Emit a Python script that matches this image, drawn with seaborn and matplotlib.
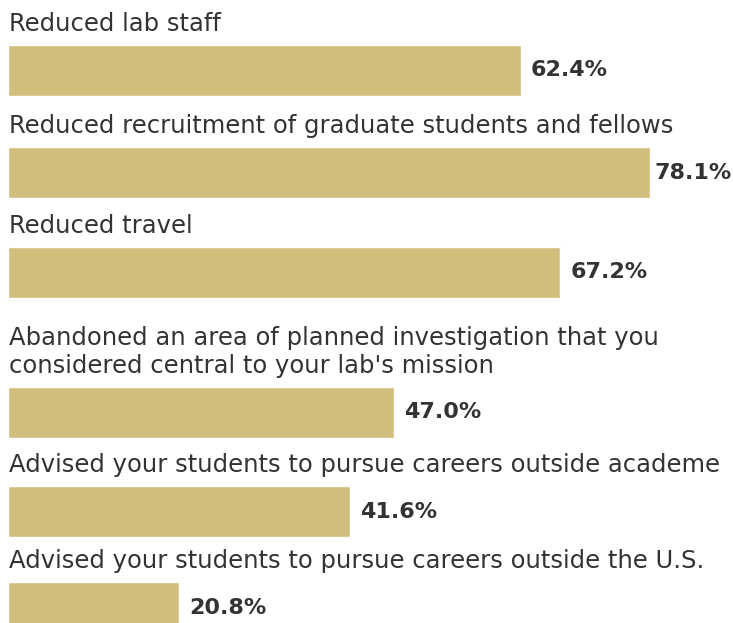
import matplotlib
matplotlib.use("Agg")
import matplotlib.pyplot as plt
import seaborn as sns
import pandas as pd

categories = [
    "Reduced lab staff",
    "Reduced recruitment of graduate students and fellows",
    "Reduced travel",
    "Abandoned an area of planned investigation that you\nconsidered central to your lab's mission",
    "Advised your students to pursue careers outside academe",
    "Advised your students to pursue careers outside the U.S.",
]
values = [62.4, 78.1, 67.2, 47.0, 41.6, 20.8]
value_labels = ["62.4%", "78.1%", "67.2%", "47.0%", "41.6%", "20.8%"]

# layout (pixels from top)
W, H = 733, 623
bar_tops = [45, 147, 247, 387, 486, 582]
bar_h = 51
label_gap = 14
left_px = 8
px_per_unit = 8.22

BAR_COLOR = "#D1BE7C"
TEXT_COLOR = "#333333"

sns.set_theme(style="white")
plt.rcParams["font.family"] = ["DejaVu Sans"]

fig = plt.figure(figsize=(W / 100, H / 100), dpi=100)
fig.patch.set_facecolor("white")

xmax = (W - left_px) / px_per_unit
value_texts = []
label_texts = []
for i, (cat, val, lab) in enumerate(zip(categories, values, value_labels)):
    top = bar_tops[i]
    ax = fig.add_axes([left_px / W, 1 - (top + bar_h) / H, (W - left_px) / W, bar_h / H])
    df = pd.DataFrame({"category": [cat], "value": [val]})
    sns.barplot(data=df, x="value", y="category", orient="h", color=BAR_COLOR,
                saturation=1, width=1.0, ax=ax)
    ax.set_xlim(0, xmax)
    ax.set_ylim(0.5, -0.5)
    ax.axis("off")
    t = ax.text(val + 10 / px_per_unit, 0, lab, va="center", ha="left",
                fontsize=16, fontweight="bold", color=TEXT_COLOR, clip_on=False)
    value_texts.append((t, val))
    lt = fig.text(9 / W, 1 - (top - label_gap) / H, cat, va="baseline", ha="left",
                  fontsize=17.5, color=TEXT_COLOR, linespacing=1.2)
    label_texts.append(lt)

# keep texts inside the figure
fig.canvas.draw()
renderer = fig.canvas.get_renderer()
for t, val in value_texts:
    bb = t.get_window_extent(renderer)
    over = bb.x1 - (W - 1)
    if over > 0:
        t.set_x(val + (10 - over) / px_per_unit)
for lt in label_texts:
    bb = lt.get_window_extent(renderer)
    if bb.x1 > W - 2:
        lt.set_fontsize(lt.get_fontsize() * (W - 2 - bb.x0) / bb.width)

fig.savefig("out.png", dpi=100, facecolor="white")
